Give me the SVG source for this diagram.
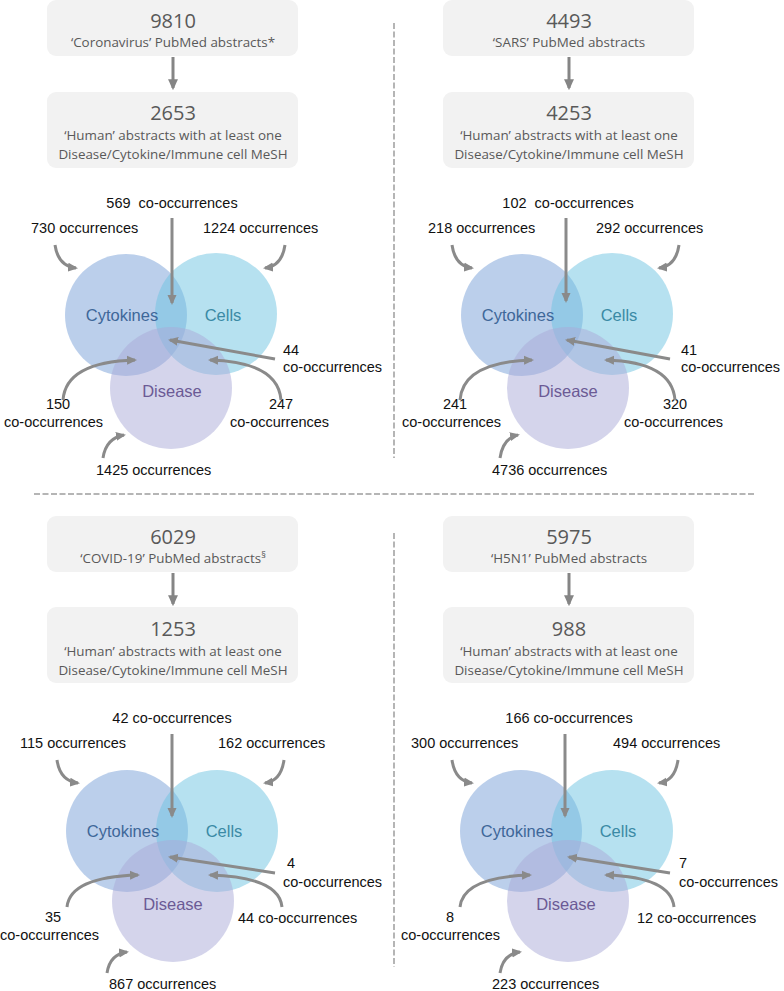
<svg xmlns="http://www.w3.org/2000/svg" width="784" height="991" viewBox="0 0 784 991">
<style>
.box{fill:#f2f2f2}
.num{font-family:"Open Sans","Noto Sans",sans-serif;font-size:20px;fill:#595959;text-anchor:middle}
.sub{font-family:"Open Sans","Noto Sans",sans-serif;font-size:13.4px;fill:#595959;text-anchor:middle}
.t{font-family:"Liberation Sans",Arial,sans-serif;font-size:14.5px;fill:#111}
.m{text-anchor:middle}
.lab{font-family:"Liberation Sans",Arial,sans-serif;font-size:16.5px;text-anchor:middle}
.cyt{fill:rgb(120,160,215);fill-opacity:0.5}
.cel{fill:rgb(110,195,225);fill-opacity:0.5}
.dis{fill:rgb(170,170,215);fill-opacity:0.5}
.lc{fill:#3e6799}.ll{fill:#3a8aa5}.ld{fill:#6b5a95}
.arr{fill:none;stroke:#8a8a8a;stroke-width:3;marker-end:url(#ah)}
.barr{fill:none;stroke:#858585;stroke-width:3;marker-end:url(#bh)}
.dash{stroke:#b5b5b5;stroke-width:2;stroke-dasharray:6 2.5;fill:none}
</style>
<defs>
<marker id="ah" markerUnits="userSpaceOnUse" markerWidth="10" markerHeight="10" viewBox="0 0 10 10" refX="8" refY="5" orient="auto"><path d="M0,0.5 L10,5 L0,9.5 z" fill="#8a8a8a"/></marker>
<marker id="bh" markerUnits="userSpaceOnUse" markerWidth="11" markerHeight="11" viewBox="0 0 10 10" refX="8" refY="5" orient="auto"><path d="M0,0.5 L10,5 L0,9.5 z" fill="#858585"/></marker>
</defs>

<g id="dividers">
<line class="dash" x1="394" y1="23" x2="394" y2="458"/>
<line class="dash" x1="34" y1="494" x2="754" y2="494"/>
<line class="dash" x1="394" y1="533" x2="394" y2="967"/>
</g>

<!-- Top-left -->
<g id="tl-box1"><rect class="box" x="47" y="0" width="251" height="56" rx="9"/><text class="num" x="173" y="28">9810</text><text class="sub" x="173" y="47">‘Coronavirus’ PubMed abstracts*</text></g>
<g id="tl-box2"><rect class="box" x="47" y="92" width="251" height="76" rx="9"/><text class="num" x="173" y="120">2653</text><text class="sub" x="173" y="140">‘Human’ abstracts with at least one</text><text class="sub" x="173" y="159">Disease/Cytokine/Immune cell MeSH</text></g>
<g id="tl-cytokines"><circle class="cyt" cx="126" cy="315" r="61"/></g>
<g id="tl-cells"><circle class="cel" cx="216" cy="314" r="61"/></g>
<g id="tl-disease"><circle class="dis" cx="171" cy="388" r="61"/></g>
<g id="tl-labels">
<text class="lab lc" x="122" y="321">Cytokines</text><text class="lab ll" x="223" y="321">Cells</text><text class="lab ld" x="172" y="397">Disease</text>
<text class="t m" x="172" y="208" xml:space="preserve">569  co-occurrences</text>
<text class="t" x="31" y="233">730 occurrences</text>
<text class="t" x="203" y="233">1224 occurrences</text>
<text class="t" x="283" y="355">44</text><text class="t" x="283" y="372">co-occurrences</text>
<text class="t m" x="58" y="409">150</text><text class="t" x="4" y="427">co-occurrences</text>
<text class="t m" x="281" y="409">247</text><text class="t" x="230" y="427">co-occurrences</text>
<text class="t" x="96" y="475">1425 occurrences</text>
</g>

<!-- Top-right -->
<g id="tr-box1"><rect class="box" x="443" y="0" width="251" height="56" rx="9"/><text class="num" x="569" y="28">4493</text><text class="sub" x="569" y="47">‘SARS’ PubMed abstracts</text></g>
<g id="tr-box2"><rect class="box" x="443" y="92" width="251" height="76" rx="9"/><text class="num" x="569" y="120">4253</text><text class="sub" x="569" y="140">‘Human’ abstracts with at least one</text><text class="sub" x="569" y="159">Disease/Cytokine/Immune cell MeSH</text></g>
<g id="tr-cytokines"><circle class="cyt" cx="522" cy="315" r="61"/></g>
<g id="tr-cells"><circle class="cel" cx="612" cy="314" r="61"/></g>
<g id="tr-disease"><circle class="dis" cx="568" cy="388" r="61"/></g>
<g id="tr-labels">
<text class="lab lc" x="518" y="321">Cytokines</text><text class="lab ll" x="619" y="321">Cells</text><text class="lab ld" x="568" y="397">Disease</text>
<text class="t m" x="568" y="208" xml:space="preserve">102  co-occurrences</text>
<text class="t" x="428" y="233">218 occurrences</text>
<text class="t" x="596" y="233">292 occurrences</text>
<text class="t" x="681" y="355">41</text><text class="t" x="681" y="372">co-occurrences</text>
<text class="t m" x="455" y="409">241</text><text class="t" x="402" y="427">co-occurrences</text>
<text class="t m" x="675" y="409">320</text><text class="t" x="624" y="427">co-occurrences</text>
<text class="t" x="492" y="475">4736 occurrences</text>
</g>

<!-- Bottom-left -->
<g id="bl-box1"><rect class="box" x="47" y="516" width="251" height="56" rx="9"/><text class="num" x="173" y="544">6029</text><text class="sub" x="173" y="563">‘COVID-19’ PubMed abstracts<tspan font-size="9" dy="-5">§</tspan></text></g>
<g id="bl-box2"><rect class="box" x="47" y="607" width="251" height="76" rx="9"/><text class="num" x="173" y="636">1253</text><text class="sub" x="173" y="656">‘Human’ abstracts with at least one</text><text class="sub" x="173" y="675">Disease/Cytokine/Immune cell MeSH</text></g>
<g id="bl-cytokines"><circle class="cyt" cx="127" cy="831" r="61"/></g>
<g id="bl-cells"><circle class="cel" cx="217" cy="831" r="61"/></g>
<g id="bl-disease"><circle class="dis" cx="173" cy="901" r="61"/></g>
<g id="bl-labels">
<text class="lab lc" x="123" y="837">Cytokines</text><text class="lab ll" x="224" y="837">Cells</text><text class="lab ld" x="173" y="910">Disease</text>
<text class="t m" x="172" y="723">42 co-occurrences</text>
<text class="t" x="20" y="748">115 occurrences</text>
<text class="t" x="218" y="748">162 occurrences</text>
<text class="t" x="287" y="868">4</text><text class="t" x="283" y="887">co-occurrences</text>
<text class="t m" x="53" y="922">35</text><text class="t" x="0" y="940">co-occurrences</text>
<text class="t" x="238" y="923">44 co-occurrences</text>
<text class="t" x="109" y="989">867 occurrences</text>
</g>

<!-- Bottom-right -->
<g id="br-box1"><rect class="box" x="443" y="516" width="251" height="56" rx="9"/><text class="num" x="569" y="544">5975</text><text class="sub" x="569" y="563">‘H5N1’ PubMed abstracts</text></g>
<g id="br-box2"><rect class="box" x="443" y="607" width="251" height="76" rx="9"/><text class="num" x="569" y="636">988</text><text class="sub" x="569" y="656">‘Human’ abstracts with at least one</text><text class="sub" x="569" y="675">Disease/Cytokine/Immune cell MeSH</text></g>
<g id="br-cytokines"><circle class="cyt" cx="521" cy="831" r="61"/></g>
<g id="br-cells"><circle class="cel" cx="612" cy="831" r="61"/></g>
<g id="br-disease"><circle class="dis" cx="568" cy="901" r="61"/></g>
<g id="br-labels">
<text class="lab lc" x="517" y="837">Cytokines</text><text class="lab ll" x="618" y="837">Cells</text><text class="lab ld" x="566" y="910">Disease</text>
<text class="t m" x="569" y="723">166 co-occurrences</text>
<text class="t" x="411" y="748">300 occurrences</text>
<text class="t" x="613" y="748">494 occurrences</text>
<text class="t" x="679" y="868">7</text><text class="t" x="679" y="887">co-occurrences</text>
<text class="t m" x="450" y="922">8</text><text class="t" x="401" y="940">co-occurrences</text>
<text class="t" x="637" y="923">12 co-occurrences</text>
<text class="t" x="492" y="989">223 occurrences</text>
</g>

<g id="connectors">
<path class="barr" d="M173,57 L173,88"/>
<path class="barr" d="M569,57 L569,88"/>
<path class="barr" d="M173,573 L173,604"/>
<path class="barr" d="M569,573 L569,604"/>

<path class="arr" d="M172,218 L172,303"/>
<path class="arr" d="M55,245 Q58,266 76,268"/>
<path class="arr" d="M285,245 Q282,266 265,268"/>
<path class="arr" d="M275,359 L170,340"/>
<path class="arr" d="M63,400 Q66,362 135,360"/>
<path class="arr" d="M281,400 Q278,362 210,360"/>
<path class="arr" d="M103,458 Q106,438 124,435"/>

<path class="arr" d="M566,218 L566,301"/>
<path class="arr" d="M452,245 Q455,266 472,268"/>
<path class="arr" d="M679,245 Q676,266 659,268"/>
<path class="arr" d="M670,359 L567,340"/>
<path class="arr" d="M460,400 Q463,362 532,360"/>
<path class="arr" d="M675,400 Q672,362 606,360"/>
<path class="arr" d="M500,458 Q503,438 518,435"/>

<path class="arr" d="M172,734 L172,816"/>
<path class="arr" d="M57,760 Q60,781 78,783"/>
<path class="arr" d="M284,760 Q281,781 265,783"/>
<path class="arr" d="M275,873 L170,857"/>
<path class="arr" d="M67,907 Q70,877 138,875"/>
<path class="arr" d="M282,907 Q279,877 210,875"/>
<path class="arr" d="M107,973 Q110,954 127,952"/>

<path class="arr" d="M565,734 L565,816"/>
<path class="arr" d="M452,760 Q455,781 472,783"/>
<path class="arr" d="M678,760 Q675,781 659,783"/>
<path class="arr" d="M670,873 L569,857"/>
<path class="arr" d="M460,907 Q463,877 530,875"/>
<path class="arr" d="M674,907 Q671,877 606,875"/>
<path class="arr" d="M500,973 Q503,954 520,952"/>
</g>
</svg>
